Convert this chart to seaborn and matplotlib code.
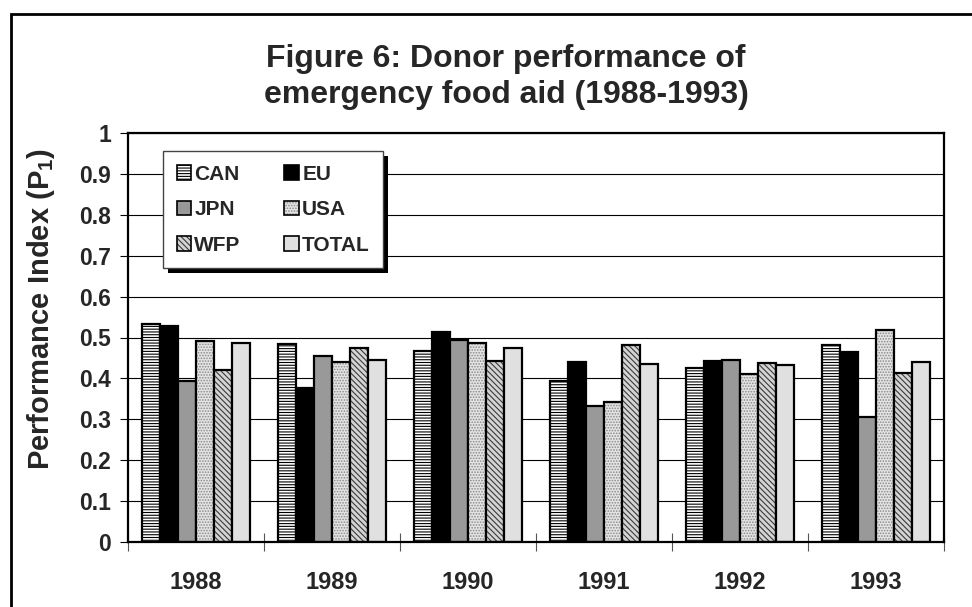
import matplotlib
matplotlib.use("Agg")
import matplotlib.pyplot as plt
from matplotlib.patches import Patch, Rectangle
from matplotlib.colors import to_rgba
import numpy as np
import pandas as pd
import seaborn as sns

# values
years = ["1988", "1989", "1990", "1991", "1992", "1993"]
donors = ["CAN", "EU", "JPN", "USA", "WFP", "TOTAL"]
can = [0.533, 0.484, 0.467, 0.394, 0.425, 0.482]
eu = [0.529, 0.377, 0.513, 0.439, 0.443, 0.465]
jpn = [0.394, 0.455, 0.494, 0.333, 0.445, 0.306]
usa = [0.492, 0.441, 0.487, 0.343, 0.411, 0.518]
wfp = [0.420, 0.474, 0.443, 0.482, 0.437, 0.414]
total = [0.486, 0.445, 0.474, 0.434, 0.433, 0.439]
yticks = [0, 0.1, 0.2, 0.3, 0.4, 0.5, 0.6, 0.7, 0.8, 0.9, 1]
ytick_labels = ["0", "0.1", "0.2", "0.3", "0.4", "0.5", "0.6", "0.7", "0.8", "0.9", "1"]

series = {"CAN": can, "EU": eu, "JPN": jpn, "USA": usa, "WFP": wfp, "TOTAL": total}
df = pd.DataFrame([(y, d, series[d][i]) for d in donors for i, y in enumerate(years)],
                  columns=["year", "donor", "value"])

# fill, hatch, hatch colour per donor
styles = {
    "CAN": ("white", "------", "black"),
    "EU": ("black", None, "black"),
    "JPN": ("#999999", None, "black"),
    "USA": ("#e4e4e4", "......", "#8a8a8a"),
    "WFP": ("#d4d4d4", "\\\\\\\\\\\\", "#3a3a3a"),
    "TOTAL": ("#e0e0e0", None, "black"),
}

sns.set_style("white")
plt.rcParams["font.family"] = ["Liberation Sans", "DejaVu Sans"]
plt.rcParams["font.weight"] = "bold"
plt.rcParams["mathtext.fontset"] = "custom"
plt.rcParams["mathtext.rm"] = "Liberation Sans:bold"
plt.rcParams["mathtext.it"] = "Liberation Sans:bold"
plt.rcParams["mathtext.bf"] = "Liberation Sans:bold"
plt.rcParams["hatch.linewidth"] = 0.8

W, H = 972, 607
fig = plt.figure(figsize=(W / 100, H / 100), dpi=100)
ax = fig.add_axes([128 / W, 1 - 542 / H, (944 - 128) / W, (542 - 133) / H])

sns.barplot(data=df, x="year", y="value", hue="donor", order=years, hue_order=donors,
            width=0.8, ax=ax, legend=False, saturation=1, errorbar=None)

def style_patch(p, donor, lw=1.6):
    face, hatch, hcol = styles[donor]
    p.set_facecolor(face)
    p.set_edgecolor("black")
    p.set_linewidth(lw)
    if hatch:
        p.set_hatch(hatch)
        p._hatch_color = to_rgba(hcol)

for donor, cont in zip(donors, ax.containers):
    for bar in cont:
        style_patch(bar, donor)

ax.set_ylim(0, 1)
ax.set_xlim(-0.5, len(years) - 0.5)
ax.set_yticks(yticks)
ax.set_yticklabels(ytick_labels, fontsize=16.5, fontweight="bold")
ax.tick_params(axis="y", direction="out", length=6, width=0.8, color="black", pad=6, left=True)
ax.set_xticks(range(len(years)))
ax.set_xticklabels(years, fontsize=17, fontweight="bold")
ax.tick_params(axis="x", length=0, pad=21)
ax.set_xticks(np.arange(-0.5, len(years)), minor=True)
ax.tick_params(axis="x", which="minor", direction="inout", length=13, width=0.8,
               color="#555555", bottom=True)
ax.yaxis.grid(True, color="black", linewidth=0.8)
ax.set_axisbelow(True)
for s in ax.spines.values():
    s.set_visible(True)
    s.set_color("black")
    s.set_linewidth(1.6)

ax.set_xlabel("")
ax.set_ylabel("Performance Index (P$_\\mathregular{1}$)", fontsize=21, fontweight="bold")
ax.yaxis.set_label_coords(-0.087, 0.57)

fig.text(506 / W, 1 - 77 / H, "Figure 6: Donor performance of\nemergency food aid (1988-1993)",
         ha="center", va="center", fontsize=23, fontweight="bold", linespacing=1.25)

# legend with a hard black drop shadow
handles = []
for d in donors:
    h = Patch(label=d)
    style_patch(h, d, lw=1.2)
    handles.append(h)
order = [0, 2, 4, 1, 3, 5]
leg = ax.legend([handles[i] for i in order], [donors[i] for i in order], ncol=2,
                loc="upper left", bbox_to_anchor=(0.043, 0.956), borderaxespad=0,
                fancybox=False, framealpha=1, edgecolor="#444444",
                prop={"size": 15, "weight": "bold"},
                handlelength=0.7, handleheight=0.7, handletextpad=0.15,
                labelspacing=0.8, columnspacing=2.1, borderpad=0.65)
leg.get_frame().set_linewidth(1.0)
leg.set_zorder(6)

fig.canvas.draw()
bb = leg.get_window_extent().transformed(ax.transAxes.inverted())
dx = 5 / ((944 - 128))
dy = 5 / ((542 - 133))
ax.add_patch(Rectangle((bb.x0 + dx, bb.y0 - dy), bb.width, bb.height, transform=ax.transAxes,
                       facecolor="black", edgecolor="none", zorder=5.5, clip_on=False))

# outer frame of the figure
fig.patches.append(Rectangle((11 / W, -0.1), 1.2, 1.1 - 14 / H, transform=fig.transFigure,
                             fill=False, edgecolor="black", linewidth=2.0))

fig.savefig("out.png", dpi=100)
